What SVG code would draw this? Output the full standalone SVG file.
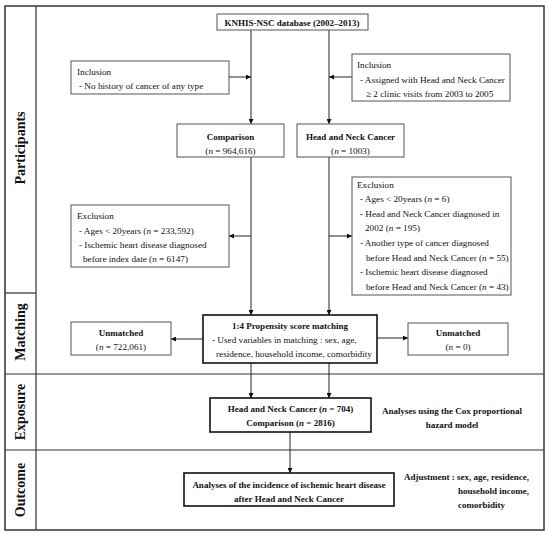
<svg xmlns="http://www.w3.org/2000/svg" width="550" height="535" viewBox="0 0 550 535">
<defs>
<marker id="ah" viewBox="0 0 10 10" refX="10" refY="5" markerWidth="5" markerHeight="5" orient="auto" markerUnits="userSpaceOnUse"><path d="M0,0 L10,5 L0,10 z" fill="#111"/></marker>
<style>
text{font-family:"Liberation Serif","Times New Roman",serif;font-size:9.2px;fill:#111}
.b{font-weight:bold;font-size:9px}
.c{text-anchor:middle}
.lab{font-weight:bold;font-size:14px;text-anchor:middle}
.box{fill:#fff;stroke:#555;stroke-width:1}
.bold{fill:#fff;stroke:#111;stroke-width:1.6}
.ln{stroke:#222;stroke-width:1;fill:none}
.ar{stroke:#222;stroke-width:1;fill:none;marker-end:url(#ah)}
.frame{fill:none;stroke:#333;stroke-width:1.5}
.div{stroke:#333;stroke-width:1.2}
</style>
</defs>
<rect width="550" height="535" fill="#fff"/>
<g id="frame">
<rect class="frame" x="5" y="6" width="539" height="524"/>
<line class="div" x1="36" y1="6" x2="36" y2="530"/>
<line class="div" x1="5" y1="293" x2="36" y2="293"/>
<line class="div" x1="5" y1="374" x2="544" y2="374"/>
<line class="div" x1="5" y1="450" x2="544" y2="450"/>
<text class="lab" transform="translate(25,148) rotate(-90)">Participants</text>
<text class="lab" transform="translate(25,332) rotate(-90)">Matching</text>
<text class="lab" transform="translate(25,412) rotate(-90)">Exposure</text>
<text class="lab" transform="translate(25,490) rotate(-90)">Outcome</text>
</g>
<g id="connectors">
<line class="ar" x1="251" y1="30" x2="251" y2="124"/>
<line class="ar" x1="329" y1="30" x2="329" y2="124"/>
<line class="ar" x1="229" y1="77" x2="251" y2="77"/>
<line class="ar" x1="352" y1="77" x2="329" y2="77"/>
<line class="ar" x1="251" y1="157" x2="251" y2="315"/>
<line class="ar" x1="329" y1="157" x2="329" y2="315"/>
<line class="ar" x1="251" y1="236" x2="229" y2="236"/>
<line class="ar" x1="329" y1="236" x2="352" y2="236"/>
<line class="ar" x1="203" y1="339" x2="171" y2="339"/>
<line class="ar" x1="377" y1="338" x2="408" y2="338"/>
<line class="ar" x1="251" y1="363" x2="251" y2="398"/>
<line class="ar" x1="329" y1="363" x2="329" y2="398"/>
<line class="ar" x1="290" y1="432" x2="290" y2="473"/>
</g>
<g id="knhis">
<rect class="box" x="217" y="14" width="151" height="16"/>
<text class="b c" x="292" y="25.5">KNHIS-NSC database (2002–2013)</text>
</g>
<g id="inclusion-left">
<rect class="box" x="71" y="61" width="158" height="33"/>
<text x="77" y="75">Inclusion</text>
<text x="79" y="89">- No history of cancer of any type</text>
</g>
<g id="inclusion-right">
<rect class="box" x="352" y="54" width="158" height="47"/>
<text x="357" y="68">Inclusion</text>
<text x="360" y="83">- Assigned with Head and Neck Cancer</text>
<text x="366" y="97">≥ 2 clinic visits from 2003 to 2005</text>
</g>
<g id="comparison">
<rect class="box" x="177" y="124" width="107" height="33"/>
<text class="b c" x="230.5" y="140">Comparison</text>
<text class="c" x="230.5" y="154">(<tspan font-style="italic">n</tspan> = 964,616)</text>
</g>
<g id="hnc">
<rect class="box" x="297" y="124" width="107" height="33"/>
<text class="b c" x="350.5" y="140">Head and Neck Cancer</text>
<text class="c" x="350.5" y="154">(<tspan font-style="italic">n</tspan> = 1003)</text>
</g>
<g id="exclusion-left">
<rect class="box" x="71" y="205" width="158" height="62"/>
<text x="77" y="219">Exclusion</text>
<text x="79" y="234">- Ages &lt; 20years (<tspan font-style="italic">n</tspan> = 233,592)</text>
<text x="79" y="248">- Ischemic heart disease diagnosed</text>
<text x="83" y="262">before index date (<tspan font-style="italic">n</tspan> = 6147)</text>
</g>
<g id="exclusion-right">
<rect class="box" x="352" y="177" width="159" height="118"/>
<text x="357" y="188">Exclusion</text>
<text x="360" y="202">- Ages &lt; 20years (<tspan font-style="italic">n</tspan> = 6)</text>
<text x="360" y="216.5">- Head and Neck Cancer diagnosed in</text>
<text x="365" y="231">2002 (<tspan font-style="italic">n</tspan> = 195)</text>
<text x="360" y="246">- Another type of cancer diagnosed</text>
<text x="366" y="261">before Head and Neck Cancer (<tspan font-style="italic">n</tspan> = 55)</text>
<text x="360" y="275">- Ischemic heart disease diagnosed</text>
<text x="366" y="290">before Head and Neck Cancer (<tspan font-style="italic">n</tspan> = 43)</text>
</g>
<g id="matching">
<rect class="bold" x="203" y="315" width="174" height="48"/>
<text class="b c" x="290" y="329">1:4 Propensity score matching</text>
<text x="212" y="343">- Used variables in matching : sex, age,</text>
<text x="216" y="357">residence, household income, comorbidity</text>
</g>
<g id="unmatched-left">
<rect class="box" x="71" y="322" width="100" height="33"/>
<text class="b c" x="121" y="336">Unmatched</text>
<text class="c" x="121" y="350">(<tspan font-style="italic">n</tspan> = 722,061)</text>
</g>
<g id="unmatched-right">
<rect class="box" x="408" y="323" width="100" height="32"/>
<text class="b c" x="458" y="336">Unmatched</text>
<text class="c" x="458" y="350">(<tspan font-style="italic">n</tspan> = 0)</text>
</g>
<g id="exposure">
<rect class="bold" x="210" y="398" width="161" height="34"/>
<text class="b c" x="290.5" y="412">Head and Neck Cancer (<tspan font-style="italic">n</tspan> = 704)</text>
<text class="b c" x="290.5" y="426">Comparison (<tspan font-style="italic">n</tspan> = 2816)</text>
</g>
<g id="cox-note">
<text class="b c" x="452" y="414">Analyses using the Cox proportional</text>
<text class="b c" x="452" y="428">hazard model</text>
</g>
<g id="outcome">
<rect class="bold" x="184" y="473" width="210" height="33"/>
<text class="b c" x="289" y="488">Analyses of the incidence of ischemic heart disease</text>
<text class="b c" x="289" y="502">after Head and Neck Cancer</text>
</g>
<g id="adjustment-note">
<text class="b" x="404" y="480">Adjustment : sex, age, residence,</text>
<text class="b" x="458" y="494">household income,</text>
<text class="b" x="458" y="508">comorbidity</text>
</g>
</svg>
